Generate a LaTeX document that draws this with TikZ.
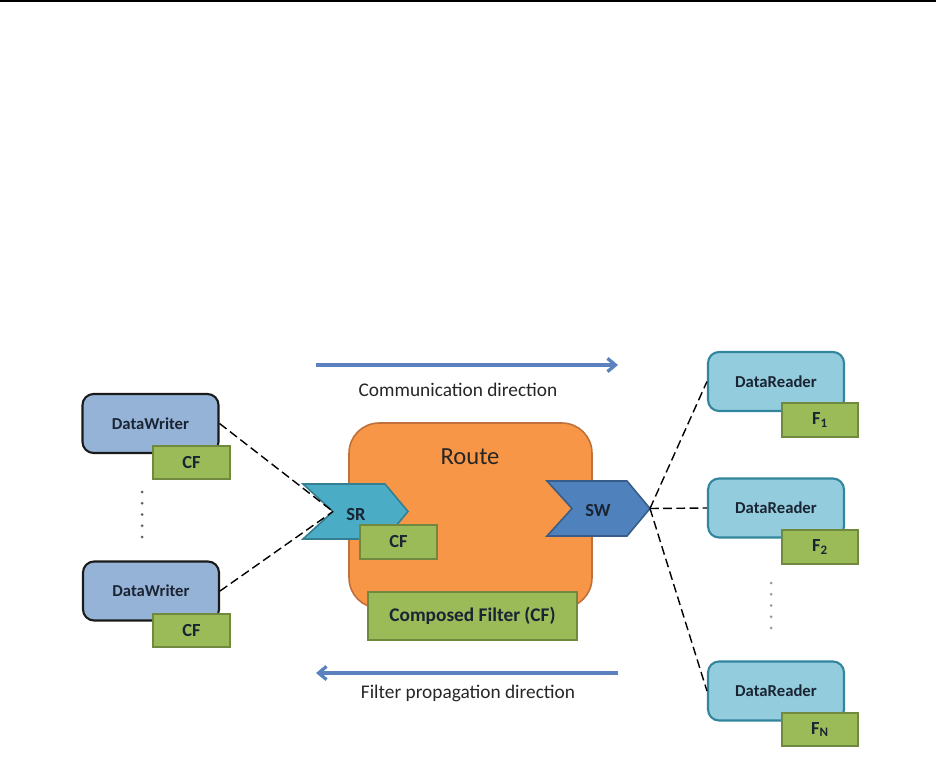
\documentclass[tikz,border=0pt]{standalone}
\usepackage{fontspec}
\setmainfont{Carlito}
\usepackage{tikz}
\usetikzlibrary{arrows.meta}
\definecolor{writerfill}{HTML}{95B3D7}
\definecolor{writerline}{HTML}{1A1A1A}
\definecolor{readerfill}{HTML}{93CDDD}
\definecolor{readerline}{HTML}{31859C}
\definecolor{filterfill}{HTML}{9BBB59}
\definecolor{filterline}{HTML}{71893F}
\definecolor{routefill}{HTML}{F79646}
\definecolor{routeline}{HTML}{C0703A}
\definecolor{srfill}{HTML}{4BACC6}
\definecolor{srline}{HTML}{357D91}
\definecolor{swfill}{HTML}{4F81BD}
\definecolor{swline}{HTML}{385D8A}
\definecolor{dirblue}{HTML}{5B82BE}
\definecolor{labelgray}{HTML}{262626}
\definecolor{boxtext}{HTML}{1B2433}

\begin{document}
\begin{tikzpicture}[x=0.02cm, y=-0.02cm,
	writer/.style={draw=writerline, fill=writerfill, line width=1.2pt, rounded corners=0.22cm,
		minimum width=2.72cm, minimum height=1.18cm, inner sep=0pt,
		font=\fontsize{9.5}{11}\selectfont\bfseries, text=boxtext},
	reader/.style={writer, draw=readerline, fill=readerfill},
	filter/.style={draw=filterline, fill=filterfill, line width=1pt, inner sep=0pt,
		minimum width=1.53cm, minimum height=0.67cm,
		font=\fontsize{10.5}{12}\selectfont\bfseries, text=boxtext},
	chevron/.style={line width=0.9pt, line join=miter},
	chevtext/.style={font=\fontsize{10.5}{12}\selectfont\bfseries, text=boxtext},
	link/.style={line width=0.8pt, dash pattern=on 5pt off 2.5pt},
	dir/.style={line width=1.9pt, draw=dirblue, -{Straight Barb[length=4.5pt,width=7.5pt]}},
	dirlabel/.style={font=\fontsize{11}{13}\selectfont, text=labelgray}]
	\useasboundingbox (0,0) rectangle (936,783);
	\draw[line width=1.1pt] (0,1) -- (936,1);

	\coordinate (commstart) at (316,365);
	\coordinate (commend) at (618,365);
	\draw[dir] (commstart) -- (commend);
	\node[dirlabel] (commlabel) at (458,390) {Communication direction};
	\coordinate (propstart) at (618,673);
	\coordinate (propend) at (316,673);
	\draw[dir] (propstart) -- (propend);
	\node[dirlabel] (proplabel) at (468,693) {Filter propagation direction};

	\node[draw=routeline, fill=routefill, line width=0.9pt, rounded corners=0.6cm,
		minimum width=4.86cm, minimum height=3.7cm] (route) at (470.5,515.5) {};
	\node[font=\fontsize{14}{16}\selectfont, text=labelgray] (routelabel) at (470,457) {Route};
	\node[filter, minimum width=4.18cm, minimum height=0.96cm, font=\fontsize{11}{13}\selectfont\bfseries] (composed) at (472.5,616) {Composed Filter (CF)};

	\draw[chevron, fill=srfill, draw=srline] (303,484) -- (385,484) -- (408,511.5) -- (385,539) -- (303,539) -- (333,511.5) -- cycle;
	\coordinate (srnotch) at (333,511.5);
	\node[chevtext] (sr) at (356,515) {SR};
	\node[filter] (srcf) at (398.5,542) {CF};

	\draw[chevron, fill=swfill, draw=swline] (547,481) -- (627,481) -- (650,508.5) -- (627,536) -- (547,536) -- (572,508.5) -- cycle;
	\coordinate (swtip) at (650,508.5);
	\node[chevtext] (sw) at (598,511) {SW};

	\node[writer] (dw1) at (150.5,423.5) {DataWriter};
	\node[filter] (dw1cf) at (191.5,462.5) {CF};
	\node[writer] (dw2) at (151,591) {DataWriter};
	\node[filter] (dw2cf) at (191.5,630.5) {CF};
	\foreach \y in {492,503.25,...,538}
		\fill[writerline!70] (142,\y) circle (1.5);

	\node[reader] (dr1) at (776,381.5) {DataReader};
	\node[filter] (f1) at (820,420) {F\textsubscript{1}};
	\node[reader] (dr2) at (776,508) {DataReader};
	\node[filter] (f2) at (820,547) {F\textsubscript{2}};
	\node[reader] (drn) at (776,691) {DataReader};
	\node[filter] (fn) at (820,729.5) {F\textsubscript{N}};
	\foreach \y in {583,594.25,...,629}
		\fill[gray!80] (771,\y) circle (1.5);

	\draw[link] (dw1.east) -- (srnotch);
	\draw[link] (dw2.east) -- (srnotch);
	\draw[link] (swtip) -- (dr1.west);
	\draw[link] (swtip) -- (dr2.west);
	\draw[link] (swtip) -- (drn.west);
\end{tikzpicture}
\end{document}
